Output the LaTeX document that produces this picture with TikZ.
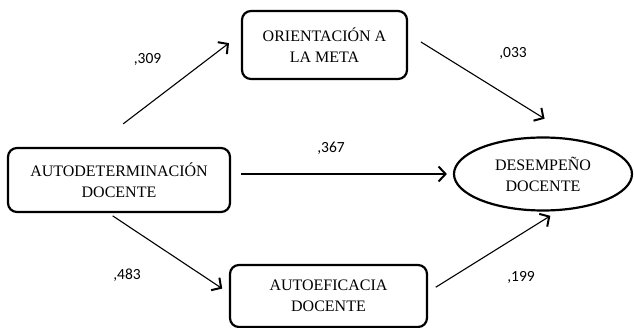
\documentclass[tikz,border=0pt]{standalone}
\usepackage{fontspec}
\setmainfont{Liberation Serif}
\newfontfamily\lblfont{Carlito}
\usetikzlibrary{arrows.meta,shapes.geometric}

\tikzset{
	caja/.style={draw, line width=2.2pt, rounded corners=9pt, align=center, inner sep=0pt,
		font=\fontsize{16}{21}\selectfont},
	elipse/.style={draw, ellipse, line width=2.2pt, align=center, inner sep=0pt,
		font=\fontsize{16}{21}\selectfont},
	flecha/.style={line width=1.1pt, -{Straight Barb[length=7pt,width=15pt,line width=2pt]}},
	coef/.style={font=\lblfont\fontsize{15.5}{17}\selectfont}
}

\begin{document}
\begin{tikzpicture}[x=1pt, y=-1pt]
		\useasboundingbox (0,0) rectangle (634,328);

		\node[caja, minimum width=222pt, minimum height=64pt] (auto) at (119,180) {AUTODETERMINACIÓN\\DOCENTE};
		\node[caja, minimum width=165pt, minimum height=68pt] (orient) at (324.5,45) {ORIENTACIÓN A\\LA META};
		\node[caja, minimum width=197pt, minimum height=62pt] (autoef) at (328.5,296) {AUTOEFICACIA\\DOCENTE};
		\node[elipse, minimum width=178pt, minimum height=73pt] (desemp) at (543,174) {DESEMPEÑO\\DOCENTE};

		\path ([xshift=-26pt]auto.north) edge[flecha, shorten <=38pt, shorten >=15pt] ([yshift=11pt]orient.west);
		\path ([yshift=11pt]orient.east) edge[flecha, shorten <=15pt, shorten >=39pt] (desemp.45);
		\path (auto.east |- desemp.west) edge[flecha, shorten <=10pt, shorten >=6pt] (desemp.west);
		\path ([xshift=-10.5pt]auto.south) edge[flecha, shorten <=5pt, shorten >=8pt] ([yshift=3pt]autoef.west);
		\path ([yshift=4pt]autoef.east) edge[flecha, shorten <=9pt, shorten >=9pt] (desemp.-68);

		\node[coef] (c309) at (147.5,59) {,309};
		\node[coef] (c033) at (513,53) {,033};
		\node[coef] (c367) at (331,148) {,367};
		\node[coef] (c483) at (127,275) {,483};
		\node[coef] (c199) at (521,277) {,199};
	\end{tikzpicture}
\end{document}
